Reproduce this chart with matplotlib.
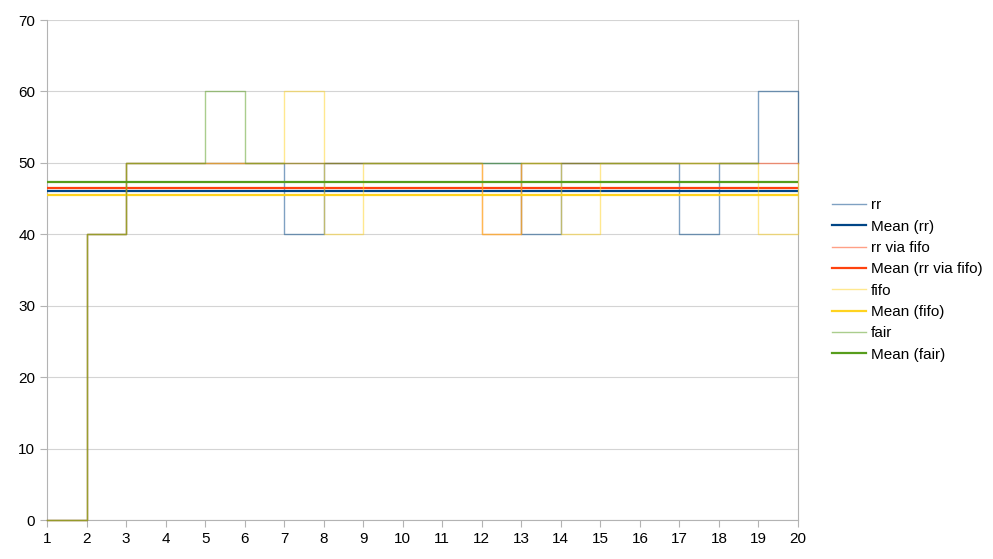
import matplotlib.pyplot as plt
import numpy as np

plt.rcParams['font.family'] = ['Liberation Sans', 'DejaVu Sans']

# data (one value per run, x = 1..20)
runs = np.arange(1, 21)
rr = [0, 40, 50, 50, 50, 50, 40, 50, 50, 50, 50, 50, 40, 50, 50, 50, 40, 50, 60, 50]
rr_fifo = [0, 40, 50, 50, 50, 50, 50, 50, 50, 50, 50, 40, 50, 50, 50, 50, 50, 50, 50, 50]
fifo = [0, 40, 50, 50, 50, 50, 60, 40, 50, 50, 50, 40, 50, 40, 50, 50, 50, 50, 40, 50]
fair = [0, 40, 50, 50, 60, 50, 50, 50, 50, 50, 50, 50, 50, 50, 50, 50, 50, 50, 50]  # 19 runs only

names = ['rr', 'rr via fifo', 'fifo', 'fair']
series = [rr, rr_fifo, fifo, fair]
colors = ['#004586', '#ff420e', '#ffd320', '#579d1c']

fig = plt.figure(figsize=(9.93, 5.59), dpi=100)
ax = fig.add_axes([47 / 993, 39 / 559, 751 / 993, 500 / 559])

for name, vals, c in zip(names, series, colors):
    x = runs[:len(vals)]
    ax.plot(x, vals, drawstyle='steps-post', color=c, alpha=0.5, lw=1.0,
            label=name, clip_on=False, zorder=3)
    ax.plot([1, 20], [np.mean(vals)] * 2, color=c, lw=1.6, label='Mean (%s)' % name,
            zorder=3)

ax.set_xlim(1, 20)
ax.set_ylim(0, 70)
ax.set_xticks(runs)
ax.set_yticks(np.arange(0, 71, 10))
ax.grid(axis='y', color='#d4d4d4', lw=0.8)
ax.set_axisbelow(True)
for s in ['left', 'bottom', 'right']:
    ax.spines[s].set_color('#b3b3b3')
ax.spines['top'].set_visible(False)
ax.tick_params(colors='#b3b3b3', labelcolor='black', labelsize=11, length=5, width=0.8)

fig.legend(loc='center left', bbox_to_anchor=(832 / 993, 1 - 280 / 559), frameon=False,
           fontsize=11, handlelength=2.2, handletextpad=0.35, labelspacing=0.48,
           borderpad=0, borderaxespad=0)

fig.savefig('out.png', dpi=100)
